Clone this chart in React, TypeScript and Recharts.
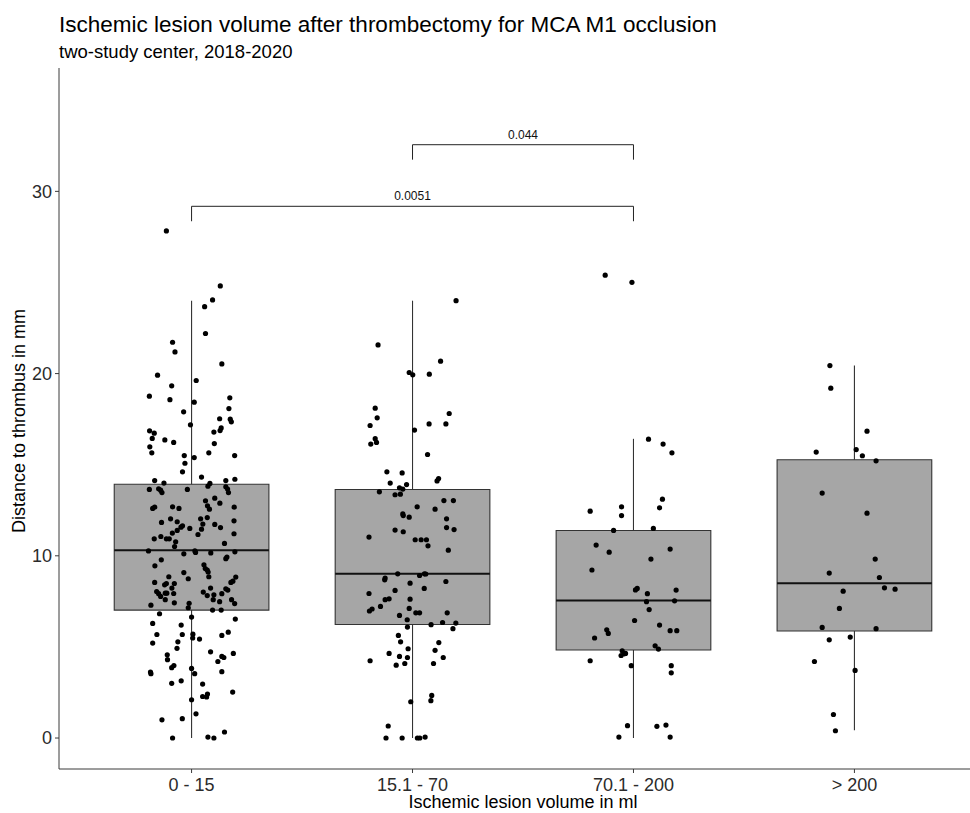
import React from 'react';
import { ComposedChart, XAxis, YAxis, Scatter, ReferenceArea, ReferenceLine, ReferenceDot } from 'recharts';

const FONT = '"Liberation Sans", Arial, Helvetica, sans-serif';

const categories = ['0 - 15', '15.1 - 70', '70.1 - 200', '> 200'];
const yTicks = [0, 10, 20, 30];

// Box statistics per group
const whiskerLow = [0, 0, 0, 0.42];
const quartile1 = [7.02, 6.23, 4.83, 5.87];
const medians = [10.31, 9.01, 7.55, 8.5];
const quartile3 = [13.93, 13.64, 11.39, 15.27];
const whiskerHigh = [24.0, 24.0, 16.42, 20.44];

// Significance brackets
const bracketFrom = [1, 2];
const bracketTo = [3, 3];
const bracketY = [29.18, 32.56];
const bracketLabels = ['0.0051', '0.044'];

// Group 1: 0 - 15 ml
const g1Distance = [
  27.83, 24.81, 24.04, 23.67, 22.2, 21.72, 21.19, 20.53, 19.91, 19.62, 19.33, 18.76, 18.57, 18.43, 18.67, 18.08,
  17.9, 17.52, 17.5, 17.35, 17.19, 17.02, 16.87, 16.86, 16.73, 16.79, 16.36, 16.22, 16.44, 16.16, 15.98, 15.65,
  15.65, 15.5, 15.39, 15.5, 15.08, 14.61, 14.32, 14.13, 13.99, 13.97, 13.82, 14.13, 14.2, 13.64, 13.68, 13.6,
  13.47, 13.64, 13.79, 13.66, 13.47, 13.02, 13.16, 12.89, 12.74, 12.56, 12.67, 12.6, 12.69, 12.6, 12.67, 12.03,
  12.1, 12.03, 11.83, 11.87, 11.65, 11.57, 11.92, 11.74, 11.46, 11.72, 11.55, 11.5, 11.39, 11.17, 11.25, 11.21,
  10.93, 11.06, 10.93, 10.93, 10.77, 10.51, 10.68, 10.27, 10.11, 10.27, 10.18, 10.16, 10.22, 9.84, 9.93, 9.78,
  9.45, 9.51, 9.3, 9.22, 9.11, 9.08, 8.74, 8.85, 8.85, 8.83, 8.54, 8.41, 8.48, 8.48, 8.54, 8.61,
  8.23, 8.23, 8.19, 8.12, 8.04, 7.92, 7.95, 7.95, 8.01, 7.92, 7.93, 7.77, 7.59, 7.42, 7.29, 7.39,
  7.15, 7.82, 7.59, 7.48, 7.86, 7.59, 7.38, 7.02, 7.02, 6.82, 6.64, 6.53, 6.29, 6.2, 5.81, 5.68,
  5.68, 5.7, 5.49, 5.63, 5.43, 5.28, 5.21, 4.92, 4.73, 4.57, 4.3, 4.64, 4.48, 4.42, 4.2, 3.98,
  3.86, 3.82, 3.53, 3.62, 3.53, 3.64, 3.14, 3.0, 2.96, 2.52, 2.41, 2.28, 2.25, 2.1, 1.33, 1.0,
  1.06, 0.33, 0, 0.05, 0,
];
const g1Jitter = [
  -0.114, 0.13, 0.095, 0.059, 0.063, -0.086, -0.075, 0.137, -0.154, 0.021, -0.09, -0.191, -0.098, 0.012, 0.173, 0.169,
  -0.036, 0.127, 0.175, 0.18, -0.005, 0.134, 0.129, -0.19, -0.169, 0.101, -0.121, -0.081, -0.178, 0.103, -0.189, -0.18,
  0.078, -0.033, 0.012, 0.195, -0.03, -0.041, 0.045, -0.167, -0.125, 0.083, 0.074, 0.155, 0.196, -0.191, -0.149, -0.14,
  -0.134, -0.019, 0.155, 0.163, 0.167, 0.063, 0.105, 0.128, 0.072, 0.081, -0.167, -0.176, -0.086, -0.057, 0.193, 0.041,
  0.071, -0.095, -0.136, -0.065, -0.041, -0.048, 0.192, 0.051, 0.045, 0.105, 0.131, -0.008, -0.065, 0.029, -0.087, 0.192,
  -0.169, -0.139, -0.114, -0.101, -0.072, -0.077, 0.149, -0.195, -0.035, 0.015, 0.018, 0.087, 0.196, 0.155, 0.16, -0.137,
  -0.166, 0.056, 0.062, 0.071, 0.075, -0.035, -0.015, -0.103, 0.078, 0.2, -0.167, -0.122, -0.114, -0.078, 0.178, 0.187,
  0.086, -0.089, 0.155, 0.164, -0.158, -0.149, -0.119, -0.112, 0.053, 0.137, -0.081, -0.14, -0.119, -0.078, -0.184, -0.011,
  -0.015, 0.071, 0.098, 0.127, 0.101, 0.181, 0.195, 0.095, 0.134, -0.145, 0, 0.198, -0.176, -0.047, 0.166, -0.157,
  -0.042, 0.006, 0.005, 0.137, 0.036, -0.062, -0.176, -0.066, 0.086, -0.11, -0.109, 0.189, 0.137, 0.146, 0.119, -0.08,
  -0.09, 0, 0.014, -0.186, -0.184, 0.137, -0.047, -0.09, 0.05, 0.186, 0.072, 0.05, 0.068, 0, 0.02, -0.134,
  -0.042, 0.149, -0.086, 0.074, 0.101,
];

// Group 2: 15.1 - 70 ml
const g2Distance = [
  24.0, 21.57, 20.68, 20.06, 19.93, 19.97, 18.1, 17.57, 17.15, 17.81, 17.24, 17.24, 16.9, 16.43, 16.22, 16.13,
  15.56, 14.61, 14.55, 14.24, 14.11, 13.99, 13.91, 13.73, 13.66, 13.51, 13.35, 13.38, 13.03, 13.03, 12.69, 12.56,
  12.3, 12.21, 12.12, 12.03, 11.55, 11.44, 11.41, 11.32, 11.03, 10.88, 10.88, 10.88, 10.55, 10.31, 9.01, 8.92,
  9.01, 9.0, 8.78, 8.68, 8.59, 8.5, 7.93, 8.1, 8.21, 7.64, 7.59, 7.62, 7.22, 6.97, 7.08, 7.11,
  6.73, 6.87, 6.87, 6.87, 6.49, 6.09, 6.22, 6.34, 6.31, 6.0, 5.63, 5.28, 5.24, 4.9, 4.81, 4.64,
  4.48, 4.42, 4.42, 4.24, 4.0, 4.09, 4.09, 2.34, 2.05, 1.99, 0.66, 0, 0, 0, 0, 0.05,
];
const g2Jitter = [
  0.197, -0.156, 0.127, -0.015, 0.001, 0.076, -0.169, -0.16, -0.192, 0.166, 0.075, 0.151, 0.009, -0.169, -0.163, -0.189,
  0.068, -0.116, -0.047, 0.118, 0.111, -0.101, -0.027, -0.059, -0.044, -0.15, -0.079, -0.055, 0.142, 0.185, 0.021, 0.102,
  -0.044, -0.042, -0.015, 0.154, 0.154, 0.188, -0.079, -0.042, -0.197, 0.012, 0.039, 0.063, 0.07, 0.162, -0.067, 0.032,
  0.054, 0.06, -0.124, -0.126, 0.151, -0.011, -0.197, -0.079, 0.053, -0.106, -0.124, -0.011, -0.145, -0.195, -0.183, -0.015,
  -0.059, 0.015, 0.032, 0.157, -0.024, -0.023, 0.084, 0.136, 0.196, 0.183, -0.064, -0.054, 0.119, -0.02, 0.102, -0.106,
  -0.059, -0.023, 0.139, -0.192, -0.074, -0.035, 0.095, 0.087, 0.083, -0.008, -0.11, -0.12, -0.047, 0.022, 0.033, 0.057,
];

// Group 3: 70.1 - 200 ml
const g3Distance = [
  25.4, 25.01, 16.4, 16.13, 15.65, 13.11, 12.45, 12.69, 12.63, 12.21, 11.39, 11.5, 10.59, 10.37, 10.2, 9.82,
  9.22, 8.13, 8.21, 7.92, 8.12, 7.48, 7.53, 7.05, 6.45, 6.2, 5.94, 5.74, 5.89, 5.89, 5.49, 5.06,
  4.88, 4.79, 4.62, 4.53, 4.64, 4.24, 3.97, 3.97, 3.58, 0.68, 0.64, 0.71, 0.05, 0.05,
];
const g3Jitter = [
  -0.128, -0.007, 0.068, 0.134, 0.174, 0.131, -0.196, -0.054, 0.118, -0.054, -0.09, 0.09, -0.169, 0.166, -0.11, 0.079,
  -0.188, 0.009, 0.017, 0.063, 0.193, 0.059, 0.186, 0.071, 0.005, 0.118, -0.121, -0.114, 0.166, 0.196, -0.176, 0.098,
  0.113, -0.051, -0.042, -0.056, -0.036, -0.196, -0.01, 0.171, 0.171, -0.027, 0.106, 0.147, -0.066, 0.166,
];

// Group 4: > 200 ml
const g4Distance = [
  20.44, 19.2, 16.84, 15.69, 15.83, 15.49, 15.21, 13.44, 12.34, 9.82, 9.05, 8.81, 8.24, 8.17, 8.06, 7.11,
  6.07, 6.0, 5.39, 5.54, 4.2, 3.71, 1.29, 0.4,
];
const g4Jitter = [
  -0.111, -0.107, 0.057, -0.173, 0.008, 0.036, 0.098, -0.146, 0.057, 0.094, -0.114, 0.113, 0.136, 0.184, -0.051, -0.068,
  -0.146, 0.098, -0.114, -0.019, -0.181, 0.003, -0.095, -0.086,
];

const groupDistances = [g1Distance, g2Distance, g3Distance, g4Distance];
const groupJitters = [g1Jitter, g2Jitter, g3Jitter, g4Jitter];

const BOX_HALF = 0.35;
const BRACKET_TICK = 0.82;

const Dot = (props: any) => {
  const { cx, cy } = props;
  if (cx == null || cy == null) return null;
  return <circle cx={cx} cy={cy} r={2.6} fill="#000" />;
};

export default function App() {
  const scatterData = groupDistances.map((vals, gi) =>
    vals.map((v, k) => ({ x: gi + 1 + groupJitters[gi][k], y: v }))
  );

  return (
    <div
      style={{
        position: 'absolute',
        left: 0,
        top: 0,
        width: 970,
        height: 813,
        overflow: 'hidden',
        background: '#fff',
      }}
    >
      <ComposedChart width={990} height={813} margin={{ top: 68, right: 3, bottom: 0, left: 0 }}>
        <XAxis
          type="number"
          dataKey="x"
          domain={[0.4, 4.6]}
          allowDataOverflow
          ticks={[1, 2, 3, 4]}
          interval={0}
          tickFormatter={(v: number) => categories[Math.round(v) - 1]}
          height={44}
          tickSize={4}
          tickMargin={5}
          stroke="#3a3a3a"
          tick={{ fill: '#2b2b2b', fontSize: 18, fontFamily: FONT }}
        />
        <YAxis
          type="number"
          dataKey="y"
          domain={[-1.7, 36.77]}
          allowDataOverflow
          ticks={yTicks}
          interval={0}
          width={59}
          tickSize={4}
          tickMargin={3}
          stroke="#3a3a3a"
          tick={{ fill: '#2b2b2b', fontSize: 18, fontFamily: FONT }}
        />

        {categories.map((c, i) => (
          <ReferenceArea
            key={'box' + i}
            x1={i + 1 - BOX_HALF}
            x2={i + 1 + BOX_HALF}
            y1={quartile1[i]}
            y2={quartile3[i]}
            fill="#a6a6a6"
            fillOpacity={1}
            stroke="#333"
            strokeWidth={1.1}
            ifOverflow="visible"
          />
        ))}
        {categories.map((c, i) => (
          <ReferenceLine
            key={'wu' + i}
            segment={[
              { x: i + 1, y: quartile3[i] },
              { x: i + 1, y: whiskerHigh[i] },
            ]}
            stroke="#333"
            strokeWidth={1.1}
            ifOverflow="visible"
          />
        ))}
        {categories.map((c, i) => (
          <ReferenceLine
            key={'wl' + i}
            segment={[
              { x: i + 1, y: whiskerLow[i] },
              { x: i + 1, y: quartile1[i] },
            ]}
            stroke="#333"
            strokeWidth={1.1}
            ifOverflow="visible"
          />
        ))}
        {categories.map((c, i) => (
          <ReferenceLine
            key={'med' + i}
            segment={[
              { x: i + 1 - BOX_HALF, y: medians[i] },
              { x: i + 1 + BOX_HALF, y: medians[i] },
            ]}
            stroke="#111"
            strokeWidth={2}
            ifOverflow="visible"
          />
        ))}

        {bracketLabels.map((lab, b) => (
          <ReferenceLine
            key={'bh' + b}
            segment={[
              { x: bracketFrom[b], y: bracketY[b] },
              { x: bracketTo[b], y: bracketY[b] },
            ]}
            stroke="#222"
            strokeWidth={1}
            ifOverflow="visible"
          />
        ))}
        {bracketLabels.map((lab, b) => (
          <ReferenceLine
            key={'bl' + b}
            segment={[
              { x: bracketFrom[b], y: bracketY[b] },
              { x: bracketFrom[b], y: bracketY[b] - BRACKET_TICK },
            ]}
            stroke="#222"
            strokeWidth={1}
            ifOverflow="visible"
          />
        ))}
        {bracketLabels.map((lab, b) => (
          <ReferenceLine
            key={'br' + b}
            segment={[
              { x: bracketTo[b], y: bracketY[b] },
              { x: bracketTo[b], y: bracketY[b] - BRACKET_TICK },
            ]}
            stroke="#222"
            strokeWidth={1}
            ifOverflow="visible"
          />
        ))}
        {bracketLabels.map((lab, b) => (
          <ReferenceDot
            key={'bt' + b}
            x={(bracketFrom[b] + bracketTo[b]) / 2}
            y={bracketY[b]}
            r={0}
            fill="none"
            stroke="none"
            ifOverflow="visible"
            label={{
              value: lab,
              position: 'top',
              offset: 6,
              fill: '#111',
              fontSize: 12,
              fontFamily: FONT,
            }}
          />
        ))}

        {scatterData.map((data, gi) => (
          <Scatter
            key={'sc' + gi}
            data={data}
            dataKey="y"
            fill="#000"
            shape={Dot}
            isAnimationActive={false}
          />
        ))}
      </ComposedChart>

      <svg
        width={970}
        height={813}
        style={{ position: 'absolute', left: 0, top: 0, pointerEvents: 'none' }}
      >
        <text x={59} y={32} fontSize={22.5} fontFamily={FONT} fill="#000">
          Ischemic lesion volume after thrombectomy for MCA M1 occlusion
        </text>
        <text x={59} y={58} fontSize={18.5} fontFamily={FONT} fill="#000">
          two-study center, 2018-2020
        </text>
        <text x={523} y={808} fontSize={18} fontFamily={FONT} fill="#000" textAnchor="middle">
          Ischemic lesion volume in ml
        </text>
        <text
          x={0}
          y={0}
          fontSize={18}
          fontFamily={FONT}
          fill="#000"
          textAnchor="middle"
          transform="translate(25,421) rotate(-90)"
        >
          Distance to thrombus in mm
        </text>
      </svg>
    </div>
  );
}
